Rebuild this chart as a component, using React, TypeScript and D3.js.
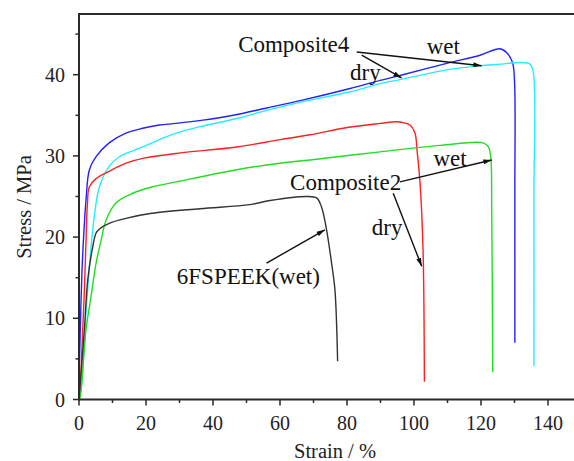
import React from "react";
import * as d3 from "d3";

// ---- data (strain %, stress MPa) ----
const composite4Dry: [number, number][] = [
  [0, 2], [0.3, 7.3], [0.9, 15.9], [1.5, 20.9], [2.1, 24.6], [3.1, 28.3], [5.1, 29.9],
  [9.0, 31.6], [14.0, 32.8], [19.0, 33.4], [24.0, 33.8], [29.0, 34.0], [37.0, 34.4],
  [46.0, 35.0], [56.0, 35.9], [66.0, 36.8], [80.9, 38.3], [89.9, 39.3], [95.8, 39.9],
  [109.8, 41.4], [119.7, 42.4], [125.7, 43.2], [127.7, 42.7], [129.4, 41.5], [130.0, 39.3],
  [130.1, 25], [130.1, 7.0],
];
const composite4Wet: [number, number][] = [
  [0, 0], [0.6, 1.2], [2.1, 10.7], [3.6, 18.8], [4.8, 23.3], [6.1, 26.2], [9.0, 28.7],
  [12.0, 29.9], [19.0, 31.1], [24.0, 32.0], [29.0, 32.8], [36.1, 33.6], [47.1, 34.6],
  [56.0, 35.6], [66.0, 36.6], [80.9, 37.9], [89.9, 38.9], [95.8, 39.4], [109.8, 40.6],
  [119.7, 41.1], [126.0, 41.3], [131.6, 41.5], [134.6, 41.3], [135.6, 40.3],
  [135.8, 25], [135.8, 4.1],
];
const composite2Dry: [number, number][] = [
  [0, 0], [0.6, 3.6], [1.1, 8.6], [1.5, 12.3], [2.1, 19.6], [2.5, 24.0], [3.1, 26.2],
  [5.1, 27.2], [9.0, 28.1], [14.0, 29.1], [19.0, 29.7], [29.0, 30.3], [47.1, 31.1],
  [60.0, 32.0], [69.0, 32.6], [80.0, 33.5], [89.9, 34.0], [94.9, 34.2], [96.7, 34.1],
  [98.8, 33.8], [100.3, 32.8], [100.9, 30.7], [101.8, 26.7], [102.7, 18.4], [103.1, 2.2],
];
const composite2Wet: [number, number][] = [
  [0, 0], [0.3, 0.2], [2.1, 8.6], [3.6, 12.7], [5.1, 16.8], [6.6, 19.6], [8.1, 22.1],
  [11.0, 24.2], [16.0, 25.4], [22.0, 26.2], [29.0, 26.8], [47.1, 28.3], [60.0, 29.1],
  [69.0, 29.5], [89.9, 30.5], [107.8, 31.3], [120.7, 31.6], [122.2, 31.1], [122.9, 29.9],
  [123.2, 23.3], [123.5, 3.4],
];
const speekWet: [number, number][] = [
  [0, 0], [1.6, 8.6], [2.6, 14.7], [4.1, 18.8], [5.1, 20.5], [6.1, 21.0], [9.0, 21.7],
  [14.0, 22.3], [21.2, 22.9], [36.1, 23.5], [51.0, 24.0], [57.0, 24.5], [68.0, 25.0],
  [71.0, 24.8], [72.4, 23.7], [73.9, 20.9], [75.4, 16.8], [76.4, 13.5], [77.2, 4.7],
];

const seriesColors = ["#2222ff", "#22eeff", "#ff2020", "#22dd22", "#333333"];
const xTicks = [0, 20, 40, 60, 80, 100, 120, 140];
const xMinor = [10, 30, 50, 70, 90, 110, 130];
const yTicks = [0, 10, 20, 30, 40];
const yMinor = [5, 15, 25, 35, 45];

const labelTexts = ["Composite4", "wet", "dry", "Composite2", "wet", "dry", "6FSPEEK(wet)"];
const labelPos: [number, number][] = [
  [47.5, 42.8], [103.8, 42.6], [80.9, 39.4], [63.0, 25.8], [105.8, 28.7], [87.4, 20.3], [29.2, 14.2],
];
const arrowFrom: [number, number][] = [
  [82.9, 42.8], [84.4, 42.4], [95.8, 26.8], [93.8, 25.4], [56.0, 16.8],
];
const arrowTo: [number, number][] = [
  [120.2, 41.1], [96.3, 39.6], [123.2, 29.5], [102.3, 16.4], [73.4, 20.9],
];

export default function App() {
  const W = 574, H = 461;
  const x = d3.scaleLinear().domain([0, 140]).range([79, 548]);
  const y = d3.scaleLinear().domain([0, 40]).range([399.5, 74.7]);
  const left = 79, bottom = 399.5, top = 14, right = 576;
  const line = d3
    .line<[number, number]>()
    .x((d) => x(d[0]))
    .y((d) => y(d[1]))
    .curve(d3.curveCatmullRom.alpha(0.5));
  const series = [composite4Dry, composite4Wet, composite2Dry, composite2Wet, speekWet];
  const font = "'Liberation Serif', 'Times New Roman', serif";
  const axisColor = "#2a2a2a";

  return (
    <svg width={W} height={H} style={{ position: "absolute", left: 0, top: 0, background: "#fff" }}>
      <defs>
        <marker id="ah" viewBox="0 0 10 6" refX="10" refY="3" markerWidth="9" markerHeight="5" orient="auto" markerUnits="userSpaceOnUse">
          <path d="M0,0 L10,3 L0,6 Z" fill="#111" />
        </marker>
      </defs>
      {series.map((s, i) => (
        <path key={i} d={line(s) || ""} fill="none" stroke={seriesColors[i]} strokeWidth={1.4} />
      ))}
      {/* frame */}
      <line x1={left} x2={right} y1={top} y2={top} stroke={axisColor} strokeWidth={2} />
      <line x1={left} x2={left} y1={top - 1} y2={bottom + 1} stroke={axisColor} strokeWidth={2} />
      <line x1={left - 1} x2={right} y1={bottom} y2={bottom} stroke={axisColor} strokeWidth={2} />
      {xTicks.map((t) => (
        <g key={"x" + t}>
          <line x1={x(t)} x2={x(t)} y1={bottom} y2={bottom + 6} stroke={axisColor} strokeWidth={1.5} />
          <text x={x(t)} y={430} textAnchor="middle" fontFamily={font} fontSize={20} fill="#222">{t}</text>
        </g>
      ))}
      {xMinor.map((t) => (
        <line key={"xm" + t} x1={x(t)} x2={x(t)} y1={bottom} y2={bottom + 3.5} stroke={axisColor} strokeWidth={1.5} />
      ))}
      {yTicks.map((t) => (
        <g key={"y" + t}>
          <line x1={left} x2={left - 6} y1={y(t)} y2={y(t)} stroke={axisColor} strokeWidth={1.5} />
          <text x={65} y={y(t) + 7} textAnchor="end" fontFamily={font} fontSize={20} fill="#222">{t}</text>
        </g>
      ))}
      {yMinor.map((t) => (
        <line key={"ym" + t} x1={left} x2={left - 3.5} y1={y(t)} y2={y(t)} stroke={axisColor} strokeWidth={1.5} />
      ))}
      <text x={335} y={458} textAnchor="middle" fontFamily={font} fontSize={20.5} fill="#222">Strain / %</text>
      <text transform={`translate(31,${207}) rotate(-90)`} textAnchor="middle" fontFamily={font} fontSize={20.5} fill="#222">Stress / MPa</text>
      {labelTexts.map((t, i) => (
        <text key={"l" + i} x={x(labelPos[i][0])} y={y(labelPos[i][1])} fontFamily={font} fontSize={23} fill="#111">{t}</text>
      ))}
      {arrowFrom.map((a, i) => (
        <line key={"a" + i} x1={x(a[0])} y1={y(a[1])} x2={x(arrowTo[i][0])} y2={y(arrowTo[i][1])} stroke="#111" strokeWidth={1.4} markerEnd="url(#ah)" />
      ))}
    </svg>
  );
}
